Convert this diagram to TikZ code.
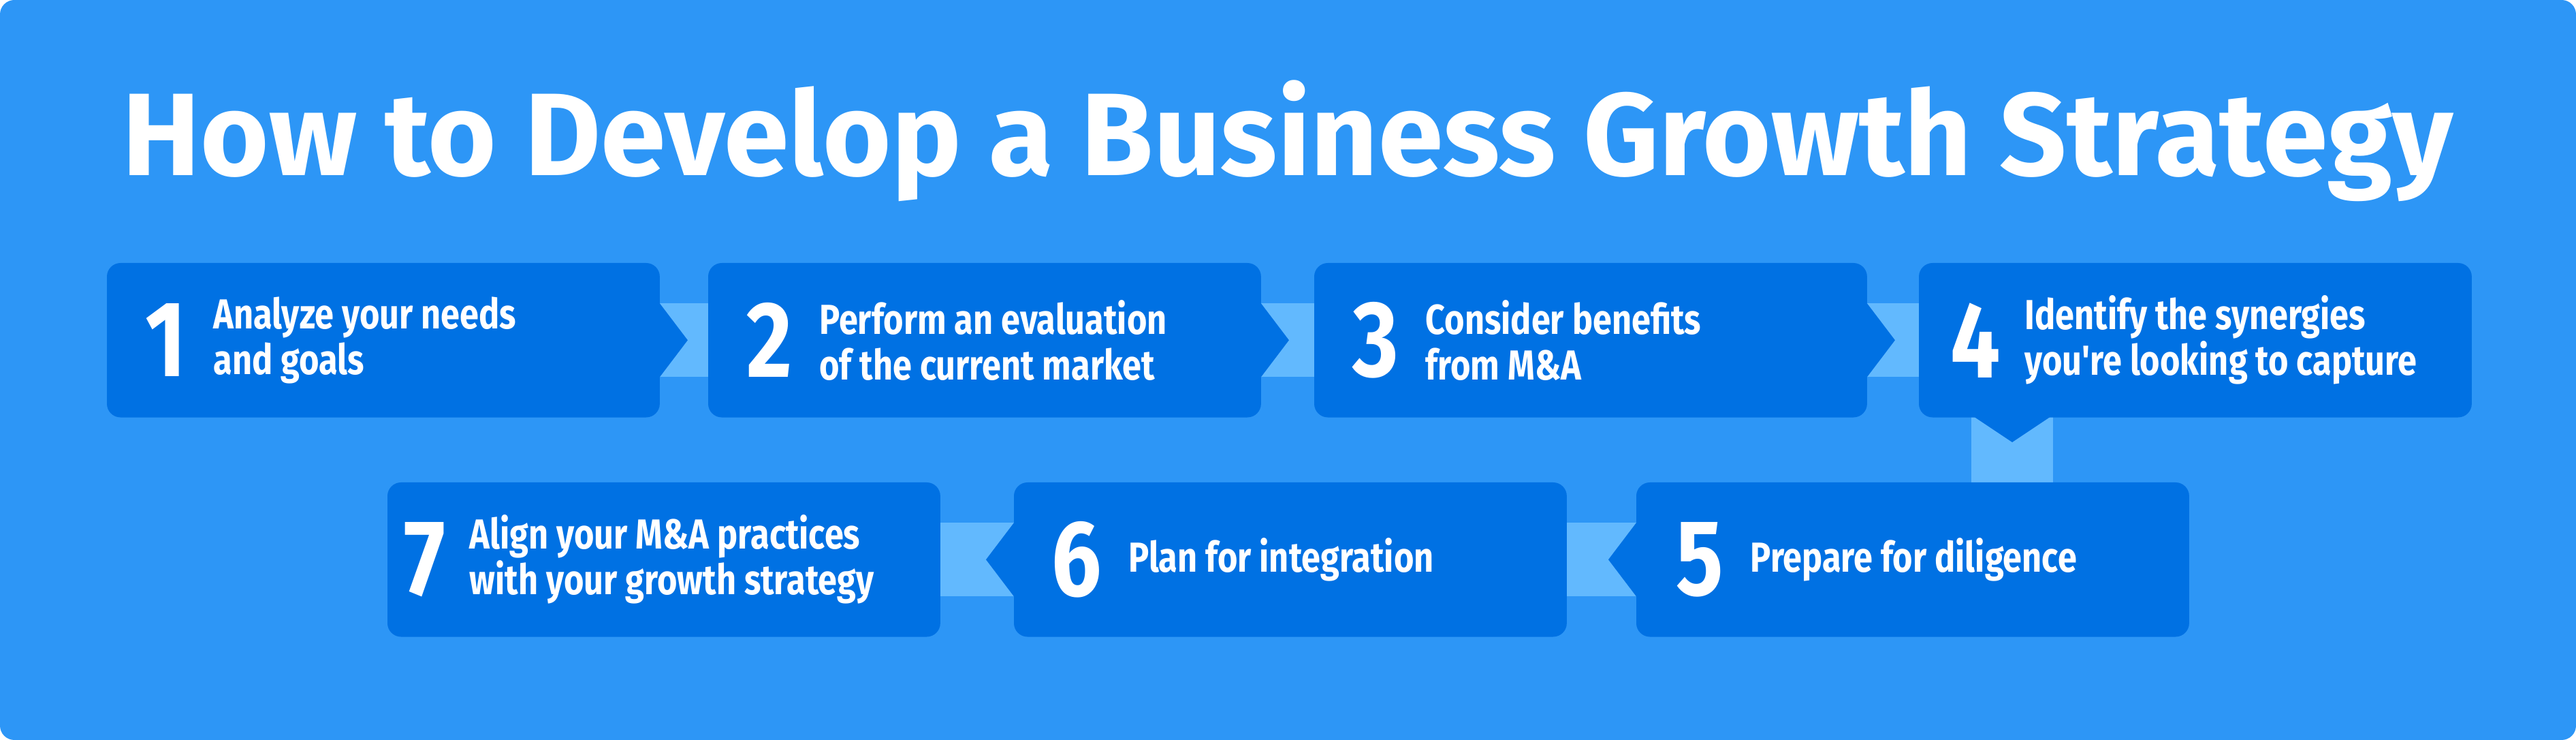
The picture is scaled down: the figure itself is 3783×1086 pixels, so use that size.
\documentclass[tikz,border=0pt]{standalone}
\usepackage{fontspec}
\setmainfont{Fira Sans}[UprightFont=* Bold, BoldFont=* Bold]
\newfontfamily\condf{Fira Sans}[UprightFont=* Bold, FakeStretch=0.82]
\definecolor{bgc}{HTML}{2D96F6}
\definecolor{boxc}{HTML}{0071E3}
\definecolor{stripc}{HTML}{62B9FE}
\tikzset{
 stepbox/.style={fill=boxc,rounded corners=0.2cm,minimum width=8.1cm,minimum height=2.25cm,inner sep=0,anchor=north west},
 numtxt/.style={text=white,font=\condf\fontsize{45}{45}\selectfont,inner sep=0,anchor=west},
 desc/.style={text=white,font=\condf\fontsize{17.5}{19}\selectfont,inner sep=0,anchor=west,align=left},
 strip/.style={fill=stripc},
 tip/.style={fill=boxc}
}
\begin{document}
\begin{tikzpicture}[x=0.01cm,y=-0.01cm]
\fill[bgc,rounded corners=6pt] (0,0) rectangle (3783,1086);
\useasboundingbox (0,0) rectangle (3783,1086);
\node[text=white,font=\fontsize{49}{49}\selectfont,inner sep=0] (title) at (1891,207) {How to Develop a Business Growth Strategy};
% boxes
\node[stepbox] (b1) at (157,386) {};
\node[stepbox] (b2) at (1040,386) {};
\node[stepbox] (b3) at (1930,386) {};
\node[stepbox] (b4) at (2818,386) {};
\node[stepbox] (b5) at (2403,708) {};
\node[stepbox] (b6) at (1489,708) {};
\node[stepbox] (b7) at (569,708) {};
\coordinate (d4) at (2955,611);
% strips
\fill[strip] ([yshift=-0.54cm]b1.east) rectangle ([yshift=0.54cm]b2.west);
\fill[strip] ([yshift=-0.54cm]b2.east) rectangle ([yshift=0.54cm]b3.west);
\fill[strip] ([yshift=-0.54cm]b3.east) rectangle ([yshift=0.54cm]b4.west);
\fill[strip] ([xshift=-0.6cm]d4) rectangle ([xshift=0.6cm]b5.north -| d4);
\fill[strip] ([yshift=-0.54cm]b5.west) rectangle ([yshift=0.54cm]b6.east);
\fill[strip] ([yshift=-0.54cm]b6.west) rectangle ([yshift=0.54cm]b7.east);
% redraw boxes over strips
\foreach \b in {b1,b2,b3,b4,b5,b6,b7}{\fill[boxc,rounded corners=0.2cm] (\b.north west) rectangle (\b.south east);}
% tips
\foreach \b in {b1,b2,b3}{\fill[tip] ([yshift=-0.54cm]\b.east) -- ([xshift=0.41cm]\b.east) -- ([yshift=0.54cm]\b.east) -- cycle;}
\fill[tip] ([xshift=-0.6cm,yshift=0.02cm]d4) -- ([yshift=-0.38cm]d4) -- ([xshift=0.6cm,yshift=0.02cm]d4) -- cycle;
\foreach \b in {b5,b6}{\fill[tip] ([yshift=-0.54cm]\b.west) -- ([xshift=-0.41cm]\b.west) -- ([yshift=0.54cm]\b.west) -- cycle;}
% texts
\node[numtxt] (n1) at ([xshift=0.56cm]b1.west) {1};
\node[desc] (t1) at ([xshift=0.38cm]n1.east) {Analyze your needs\\and goals};
\node[numtxt] (n2) at ([xshift=0.56cm]b2.west) {2};
\node[desc] (t2) at ([xshift=0.38cm]n2.east) {Perform an evaluation\\of the current market};
\node[numtxt] (n3) at ([xshift=0.56cm]b3.west) {3};
\node[desc] (t3) at ([xshift=0.38cm]n3.east) {Consider benefits\\from M\&A};
\node[numtxt] (n4) at ([xshift=0.46cm]b4.west) {4};
\node[desc] (t4) at ([xshift=0.34cm]n4.east) {Identify the synergies\\you're looking to capture};
\node[numtxt] (n5) at ([xshift=0.58cm]b5.west) {5};
\node[desc] (t5) at ([xshift=0.38cm]n5.east) {Prepare for diligence};
\node[numtxt] (n6) at ([xshift=0.55cm]b6.west) {6};
\node[desc] (t6) at ([xshift=0.38cm]n6.east) {Plan for integration};
\node[numtxt] (n7) at ([xshift=0.24cm]b7.west) {7};
\node[desc] (t7) at ([xshift=0.34cm]n7.east) {Align your M\&A practices\\with your growth strategy};
\end{tikzpicture}
\end{document}
